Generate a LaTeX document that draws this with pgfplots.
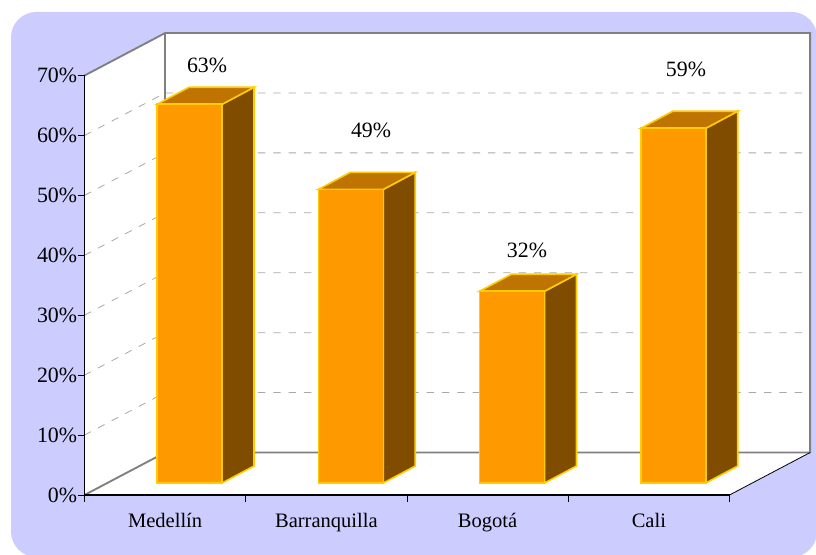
\documentclass[border=0pt]{standalone}
\usepackage{pgfplots}
\usepackage{fontspec}
\setmainfont{Liberation Serif}
\pgfplotsset{compat=1.18}
\definecolor{bgc}{HTML}{CCCCFF}
\definecolor{frontc}{HTML}{FF9900}
\definecolor{topc}{HTML}{BF7300}
\definecolor{sidec}{HTML}{804D00}
\definecolor{edgec}{HTML}{FFCC00}
\definecolor{wallc}{HTML}{808080}
\definecolor{gridc}{HTML}{A8A8A8}
\begin{document}
\begin{tikzpicture}[x=0.75pt,y=0.75pt]
\path[use as bounding box] (0,0) rectangle (816,555);
\clip (0,0) rectangle (816,555);
\fill[bgc,rounded corners=19pt] (11,-2) rectangle (817,543);
\begin{axis}[
  at={(63.375pt,45pt)},anchor=south west,
  scale only axis,width=483.75pt,height=314.6pt,
  xmin=-0.5,xmax=3.5,ymin=0,ymax=70,
  clip=false,axis on top,
  axis y line=left,axis x line=bottom,
  axis line style={-,black,line width=0.8pt},
  xtick={0,1,2,3},
  xticklabels={Medellín,Barranquilla,Bogotá,Cali},
  minor xtick={-0.5,0.5,1.5,2.5,3.5},
  ytick={0,10,...,70},
  yticklabel={\pgfmathprintnumber{\tick}\%},
  tick align=outside,
  major tick length=5pt,minor tick length=5pt,
  x tick style={draw=none},
  minor x tick style={draw=black,line width=0.6pt},
  y tick style={black,line width=0.7pt},
  xticklabel style={font=\fontsize{15.4}{18}\selectfont,yshift=-5pt},
  yticklabel style={font=\fontsize{16.4}{18}\selectfont,xshift=3pt},
  /pgf/number format/assume math mode=true,
  facestyle/.style={draw=edgec,line width=1.2pt,forget plot,y filter/.expression={y+2}},
]
% walls and floor
\addplot[fill=white,draw=none,forget plot] coordinates {(-0.5,0)(-0.5,70)(0,77.09)(4,77.09)(4,7.09)(3.5,0)} --cycle;
% grid
\addplot[gridc,line width=0.6pt,dash pattern=on 5.5pt off 6pt,forget plot] coordinates {(-0.5,10)(0,17.09)(3.96,17.09)};
\addplot[gridc,line width=0.6pt,dash pattern=on 5.5pt off 6pt,forget plot] coordinates {(-0.5,20)(0,27.09)(3.96,27.09)};
\addplot[gridc,line width=0.6pt,dash pattern=on 5.5pt off 6pt,forget plot] coordinates {(-0.5,30)(0,37.09)(3.96,37.09)};
\addplot[gridc,line width=0.6pt,dash pattern=on 5.5pt off 6pt,forget plot] coordinates {(-0.5,40)(0,47.09)(3.96,47.09)};
\addplot[gridc,line width=0.6pt,dash pattern=on 5.5pt off 6pt,forget plot] coordinates {(-0.5,50)(0,57.09)(3.96,57.09)};
\addplot[gridc,line width=0.6pt,dash pattern=on 5.5pt off 6pt,forget plot] coordinates {(-0.5,60)(0,67.09)(3.96,67.09)};
% wall outline
\addplot[wallc,line width=1.4pt,forget plot] coordinates {(-0.5,70)(0,77.09)(4,77.09)(4,7.09)(0,7.09)(-0.5,0)};
\addplot[wallc,line width=1.4pt,forget plot] coordinates {(0,7.09)(0,77.09)};
\addplot[black,line width=0.6pt,forget plot] coordinates {(3.5,0)(4,7.09)};
% Medellín 63
\addplot[fill=sidec,facestyle] coordinates {(0.353,0)(0.551,2.84)(0.551,66.04)(0.353,63.2)} --cycle;
\addplot[fill=topc,facestyle] coordinates {(-0.05,63.2)(0.148,66.04)(0.551,66.04)(0.353,63.2)} --cycle;
\addplot[fill=frontc,facestyle] coordinates {(-0.05,0)(-0.05,63.2)(0.353,63.2)(0.353,0)} --cycle;
% Barranquilla 49
\addplot[fill=sidec,facestyle] coordinates {(1.353,0)(1.551,2.84)(1.551,51.84)(1.353,49)} --cycle;
\addplot[fill=topc,facestyle] coordinates {(0.95,49)(1.148,51.84)(1.551,51.84)(1.353,49)} --cycle;
\addplot[fill=frontc,facestyle] coordinates {(0.95,0)(0.95,49)(1.353,49)(1.353,0)} --cycle;
% Bogotá 32
\addplot[fill=sidec,facestyle] coordinates {(2.353,0)(2.551,2.84)(2.551,34.84)(2.353,32)} --cycle;
\addplot[fill=topc,facestyle] coordinates {(1.95,32)(2.148,34.84)(2.551,34.84)(2.353,32)} --cycle;
\addplot[fill=frontc,facestyle] coordinates {(1.95,0)(1.95,32)(2.353,32)(2.353,0)} --cycle;
% Cali 59
\addplot[fill=sidec,facestyle] coordinates {(3.353,0)(3.551,2.84)(3.551,62.04)(3.353,59.2)} --cycle;
\addplot[fill=topc,facestyle] coordinates {(2.95,59.2)(3.148,62.04)(3.551,62.04)(3.353,59.2)} --cycle;
\addplot[fill=frontc,facestyle] coordinates {(2.95,0)(2.95,59.2)(3.353,59.2)(3.353,0)} --cycle;
\node[font=\fontsize{16.4}{18}\selectfont] at (axis cs:0.26,71.75) {63\%};
\node[font=\fontsize{16.4}{18}\selectfont] at (axis cs:1.277,60.9) {49\%};
\node[font=\fontsize{16.4}{18}\selectfont] at (axis cs:2.244,40.9) {32\%};
\node[font=\fontsize{16.4}{18}\selectfont] at (axis cs:3.23,71.1) {59\%};
\end{axis}
\end{tikzpicture}
\end{document}
